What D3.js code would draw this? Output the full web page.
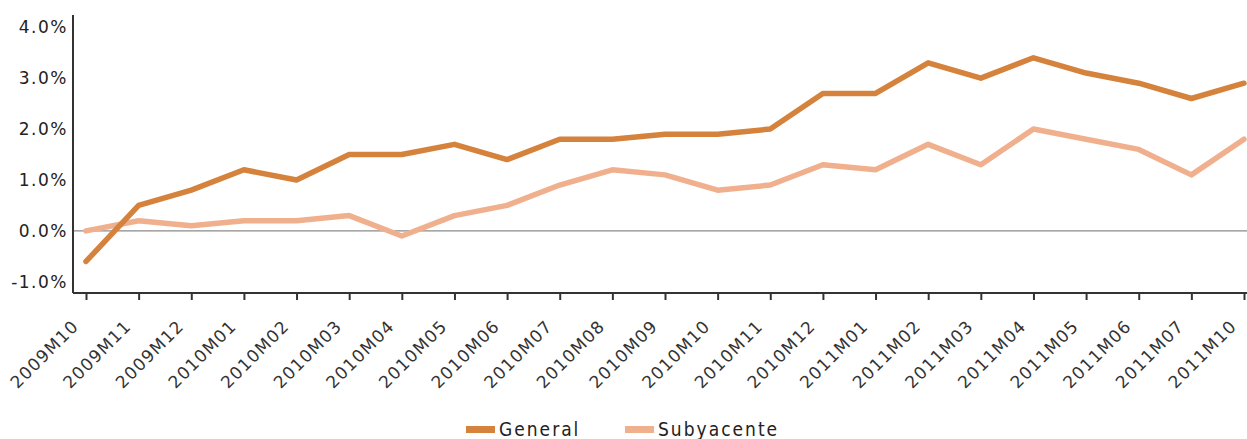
<!DOCTYPE html>
<html><head><meta charset="utf-8">
<script src="https://cdn.jsdelivr.net/npm/d3@7"></script>
<style>body{margin:0;background:#fff}svg{display:block}</style>
</head><body>
<svg id="c" width="1247" height="439"></svg>
<script>
const categories = ["2009M10","2009M11","2009M12","2010M01","2010M02","2010M03","2010M04","2010M05","2010M06","2010M07","2010M08","2010M09","2010M10","2010M11","2010M12","2011M01","2011M02","2011M03","2011M04","2011M05","2011M06","2011M07","2011M10"];
const general = [-0.6,0.5,0.8,1.2,1.0,1.5,1.5,1.7,1.4,1.8,1.8,1.9,1.9,2.0,2.7,2.7,3.3,3.0,3.4,3.1,2.9,2.6,2.9];
const subyacente = [0.0,0.2,0.1,0.2,0.2,0.3,-0.1,0.3,0.5,0.9,1.2,1.1,0.8,0.9,1.3,1.2,1.7,1.3,2.0,1.8,1.6,1.1,1.8];
const yTicks = [-1,0,1,2,3,4];
const seriesNames = ["General","Subyacente"];
const colors = ["#d4823c","#f0b08e"];

const svg = d3.select("#c");
const x = d3.scalePoint().domain(categories).range([86,1244]);
const y = d3.scaleLinear().domain([-1.22,4.24]).range([293,15]);

// zero line
svg.append("line").attr("x1",73).attr("x2",1247).attr("y1",y(0)).attr("y2",y(0))
  .attr("stroke","#8a8a8a").attr("stroke-width",1.2);

const line = d3.line().x((d,i)=>x(categories[i])).y(d=>y(d));
[[subyacente,1],[general,0]].forEach(([s,idx])=>{
  svg.append("path").datum(s).attr("d",line).attr("fill","none")
    .attr("stroke",colors[idx]).attr("stroke-width",5.5)
    .attr("stroke-linejoin","round").attr("stroke-linecap","round");
});

// y axis
const yAxis = svg.append("g").attr("transform","translate(73,0)")
  .call(d3.axisLeft(y).tickValues(yTicks).tickSize(0).tickPadding(5).tickFormat(d=>d.toFixed(1)+"%"));
yAxis.select(".domain").attr("d","M0,15V293").attr("stroke","#333").attr("stroke-width",2);
yAxis.selectAll("text").attr("font-family","DejaVu Sans").attr("font-size",17).attr("fill","#222").attr("letter-spacing",1.5);

// x axis
const xAxis = svg.append("g").attr("transform","translate(0,293)")
  .call(d3.axisBottom(x).tickSize(7).tickPadding(4));
xAxis.select(".domain").attr("d","M73,0H1247").attr("stroke","#333").attr("stroke-width",2);
xAxis.selectAll(".tick line").attr("stroke","#333").attr("stroke-width",2);
xAxis.selectAll("text").attr("font-family","DejaVu Sans").attr("font-size",17).attr("fill","#333")
  .attr("letter-spacing",1.2)
  .attr("text-anchor","end").attr("x",0).attr("y",0).attr("dy","0.35em")
  .attr("transform","translate(-11,30) rotate(-45)");

// legend
const leg = svg.append("g");
const legX = [466,625];
seriesNames.forEach((n,i)=>{
  leg.append("rect").attr("x",legX[i]).attr("y",426).attr("width",29).attr("height",7).attr("fill",colors[i]);
  leg.append("text").attr("x",legX[i]+33).attr("y",436).text(n)
    .attr("font-family","DejaVu Sans Condensed, DejaVu Sans").attr("font-size",19).attr("letter-spacing",2).attr("fill","#222");
});
</script>
</body></html>
